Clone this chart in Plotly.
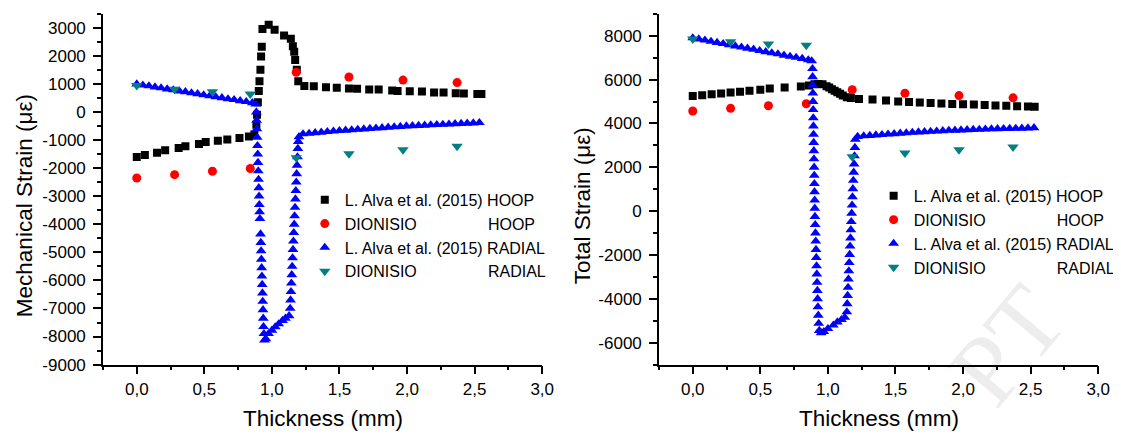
import plotly.graph_objects as go

W, H = 1121, 434

# ---------------- data: Mechanical strain (left) ----------------
mech_hoop_alva_x = [0.00, 0.06, 0.15, 0.21, 0.31, 0.36, 0.46, 0.51, 0.60, 0.67,
                    0.76, 0.83, 0.87, 0.885, 0.89, 0.896, 0.903, 0.908, 0.915, 0.92,
                    0.925, 0.93, 0.976, 1.02, 1.09, 1.14, 1.155, 1.165, 1.172, 1.184,
                    1.195, 1.24, 1.31, 1.40, 1.48, 1.57, 1.63, 1.72, 1.79, 1.89,
                    1.93, 2.02, 2.11, 2.20, 2.27, 2.36, 2.42, 2.52, 2.55]
mech_hoop_alva_y = [-1600, -1530, -1450, -1360, -1280, -1220, -1140, -1070, -1020, -980,
                    -920, -870, -800, -450, -100, 350, 750, 1100, 1510, 1980,
                    2330, 2960, 3110, 2930, 2730, 2610, 2350, 2150, 1860, 1510,
                    1100, 930, 920, 880, 870, 840, 830, 800, 800, 770,
                    750, 740, 730, 700, 700, 670, 660, 640, 640]

dion_x = [0.0, 0.28, 0.56, 0.84, 1.18, 1.57, 1.97, 2.37]
mech_hoop_dion_y = [-2350, -2230, -2110, -2010, 1420, 1250, 1140, 1050]
mech_rad_dion_y = [950, 810, 720, 640, -1630, -1490, -1340, -1220]

mech_rad_alva_x = [0.00, 0.045, 0.09, 0.135, 0.18, 0.225, 0.27, 0.315, 0.36, 0.405,
                   0.45, 0.495, 0.54, 0.585, 0.63, 0.675, 0.72, 0.765, 0.81, 0.855,
                   0.88, 0.885, 0.887, 0.889, 0.891, 0.893, 0.895, 0.897, 0.899, 0.901,
                   0.903, 0.905, 0.907, 0.909, 0.911,
                   0.916, 0.918, 0.92, 0.922, 0.924, 0.926, 0.928, 0.93, 0.932, 0.934,
                   0.936, 0.938, 0.941, 0.945, 0.955,
                   0.975, 1.0, 1.025, 1.05, 1.078, 1.10, 1.127,
                   1.135, 1.138, 1.141, 1.144, 1.147, 1.150, 1.153, 1.156, 1.159, 1.162,
                   1.165, 1.168, 1.171, 1.174, 1.177, 1.180, 1.183, 1.186, 1.189, 1.192,
                   1.195, 1.20,
                   1.23, 1.275, 1.32, 1.365, 1.41, 1.455, 1.50, 1.545, 1.59, 1.635,
                   1.68, 1.725, 1.77, 1.815, 1.86, 1.905, 1.95, 1.995, 2.04, 2.085,
                   2.13, 2.175, 2.22, 2.265, 2.31, 2.355, 2.40, 2.445, 2.49, 2.535]
mech_rad_alva_y = [1000, 960, 930, 890, 860, 820, 790, 750, 720, 680,
                   650, 610, 580, 540, 510, 470, 440, 400, 370, 330,
                   280, 0, -300, -600, -900, -1200, -1500, -1800, -2100, -2400,
                   -2700, -3000, -3300, -3560, -3800,
                   -4350, -4650, -4950, -5250, -5550, -5850, -6150, -6450, -6750, -7050,
                   -7350, -7650, -7900, -8130, -8080,
                   -7900, -7780, -7660, -7550, -7430, -7350, -7260,
                   -7000, -6700, -6400, -6100, -5800, -5500, -5200, -4900, -4600, -4300,
                   -4000, -3700, -3400, -3100, -2800, -2500, -2200, -1900, -1600, -1300,
                   -1050, -880,
                   -780, -760, -740, -720, -700, -680, -665, -650, -635, -620,
                   -605, -590, -575, -560, -545, -530, -515, -500, -490, -480,
                   -470, -460, -450, -440, -430, -420, -410, -400, -390, -380]

# ---------------- data: Total strain (right) ----------------
tot_hoop_alva_x = [0.00, 0.07, 0.14, 0.21, 0.28, 0.35, 0.42, 0.50, 0.57, 0.68,
                   0.80, 0.86, 0.90, 0.93, 0.96, 0.99, 1.01, 1.03, 1.05, 1.07,
                   1.09, 1.11, 1.14, 1.17, 1.23, 1.33, 1.43, 1.52, 1.60, 1.68,
                   1.76, 1.84, 1.92, 2.00, 2.08, 2.16, 2.24, 2.32, 2.40, 2.48, 2.53]
tot_hoop_alva_y = [5250, 5290, 5330, 5370, 5410, 5450, 5490, 5540, 5600, 5645,
                   5690, 5730, 5790, 5800, 5790, 5700, 5640, 5560, 5490, 5420,
                   5350, 5280, 5200, 5160, 5120, 5090, 5050, 5000, 4980, 4960,
                   4930, 4910, 4890, 4880, 4860, 4840, 4820, 4810, 4790, 4770, 4760]
tot_hoop_dion_y = [4570, 4690, 4810, 4900, 5540, 5380, 5270, 5170]
tot_rad_dion_y = [7850, 7730, 7630, 7570, 2480, 2650, 2800, 2930]

tot_rad_alva_x = [0.00, 0.045, 0.09, 0.135, 0.18, 0.225, 0.27, 0.315, 0.36, 0.405,
                  0.45, 0.495, 0.54, 0.585, 0.63, 0.675, 0.72, 0.765, 0.81, 0.855,
                  0.88,
                  0.886, 0.887, 0.888, 0.889, 0.890, 0.891, 0.892, 0.893, 0.894, 0.895,
                  0.896, 0.897, 0.898, 0.899, 0.900, 0.901, 0.902, 0.903, 0.904, 0.906,
                  0.908, 0.910, 0.912, 0.914, 0.916, 0.918, 0.920, 0.922, 0.924, 0.926,
                  0.929, 0.932, 0.936,
                  0.95, 0.97, 1.0, 1.04, 1.07, 1.10, 1.125,
                  1.140, 1.143, 1.146, 1.149, 1.152, 1.155, 1.158, 1.161, 1.164, 1.167,
                  1.170, 1.173, 1.176, 1.179, 1.182, 1.185, 1.188, 1.191, 1.194, 1.197,
                  1.200, 1.203,
                  1.22, 1.265, 1.31, 1.355, 1.40, 1.445, 1.49, 1.535, 1.58, 1.625,
                  1.67, 1.715, 1.76, 1.805, 1.85, 1.895, 1.94, 1.985, 2.03, 2.075,
                  2.12, 2.165, 2.21, 2.255, 2.30, 2.345, 2.39, 2.435, 2.48, 2.525]
tot_rad_alva_y = [7900, 7850, 7800, 7740, 7690, 7640, 7590, 7530, 7480, 7430,
                  7380, 7320, 7270, 7220, 7170, 7110, 7060, 7010, 6960, 6900,
                  6850,
                  6500, 6130, 5750, 5380, 5000, 4630, 4250, 3880, 3500, 3130,
                  2750, 2380, 2000, 1630, 1250, 880, 500, 130, -250, -620,
                  -1000, -1370, -1750, -2120, -2500, -2870, -3250, -3620, -4000, -4370,
                  -4750, -5120, -5450,
                  -5550, -5500, -5360, -5200, -5060, -4950, -4850,
                  -4600, -4230, -3850, -3480, -3100, -2730, -2350, -1980, -1600, -1230,
                  -850, -480, -100, 270, 650, 1020, 1400, 1770, 2150, 2520,
                  2900, 3270,
                  3400, 3430, 3450, 3470, 3490, 3510, 3530, 3550, 3570, 3590,
                  3605, 3620, 3635, 3650, 3665, 3680, 3690, 3700, 3710, 3720,
                  3730, 3740, 3750, 3755, 3760, 3770, 3775, 3780, 3790, 3800]

# ---------------- ticks / labels ----------------
x_tickvals = [0.0, 0.5, 1.0, 1.5, 2.0, 2.5, 3.0]
x_ticktext = ["0,0", "0,5", "1,0", "1,5", "2,0", "2,5", "3,0"]
x_minor = [-0.25, 0.25, 0.75, 1.25, 1.75, 2.25, 2.75]
mech_yticks = [-9000, -8000, -7000, -6000, -5000, -4000, -3000, -2000, -1000, 0, 1000, 2000, 3000]
mech_yminor = [-8500, -7500, -6500, -5500, -4500, -3500, -2500, -1500, -500, 500, 1500, 2500, 3500]
tot_yticks = [-6000, -4000, -2000, 0, 2000, 4000, 6000, 8000]
tot_yminor = [-7000, -5000, -3000, -1000, 1000, 3000, 5000, 7000, 9000]

names = ["L. Alva et al. (2015) HOOP",
         "DIONISIO" + "\u00a0" * 16 + "HOOP",
         "L. Alva et al. (2015) RADIAL",
         "DIONISIO" + "\u00a0" * 16 + "RADIAL"]

FONT = "Liberation Sans, Arial, sans-serif"
BLACK, RED, BLUE, TEAL = "#000000", "#ff0000", "#0000ff", "#008080"

fig = go.Figure()

def add_set(xa, ya, leg, hx, hy, dx, dhy, rx, ry, dry):
    fig.add_trace(go.Scatter(x=hx, y=hy, mode="markers", name=names[0], legend=leg,
                             xaxis=xa, yaxis=ya,
                             marker=dict(symbol="square", size=8, color=BLACK)))
    fig.add_trace(go.Scatter(x=dx, y=dhy, mode="markers", name=names[1], legend=leg,
                             xaxis=xa, yaxis=ya,
                             marker=dict(symbol="circle", size=9, color=RED)))
    fig.add_trace(go.Scatter(x=rx, y=ry, mode="markers", name=names[2], legend=leg,
                             xaxis=xa, yaxis=ya,
                             marker=dict(symbol="triangle-up", size=9.5, color=BLUE)))
    fig.add_trace(go.Scatter(x=dx, y=dry, mode="markers", name=names[3], legend=leg,
                             xaxis=xa, yaxis=ya,
                             marker=dict(symbol="triangle-down", size=10, color=TEAL)))

add_set("x", "y", "legend", mech_hoop_alva_x, mech_hoop_alva_y, dion_x, mech_hoop_dion_y,
        mech_rad_alva_x, mech_rad_alva_y, mech_rad_dion_y)
add_set("x2", "y2", "legend2", tot_hoop_alva_x, tot_hoop_alva_y, dion_x, tot_hoop_dion_y,
        tot_rad_alva_x, tot_rad_alva_y, tot_rad_dion_y)

TICKSIZE = 17
y_dom = [1 - 365 / H, 1 - 6 / H]
common_x = dict(range=[-0.25, 3.0], tickmode="array", tickvals=x_tickvals, ticktext=x_ticktext,
                ticks="outside", ticklen=8, tickwidth=1.5, tickcolor="black",
                showline=True, linecolor="black", linewidth=1.5, showgrid=False, zeroline=False,
                tickfont=dict(family=FONT, size=TICKSIZE, color="black"),
                minor=dict(tickmode="array", tickvals=x_minor, ticks="outside", ticklen=4,
                           tickwidth=1.5, tickcolor="black", showgrid=False))

def yaxis(rng, ticks, minor, anchor):
    return dict(range=rng, tickmode="array", tickvals=ticks, ticktext=[str(v) for v in ticks],
                ticks="outside", ticklen=8, tickwidth=1.5, tickcolor="black",
                ticklabelstandoff=4,
                showline=True, linecolor="black", linewidth=1.5, showgrid=False, zeroline=False,
                tickfont=dict(family=FONT, size=TICKSIZE, color="black"), anchor=anchor, domain=y_dom,
                minor=dict(tickmode="array", tickvals=minor, ticks="outside", ticklen=4,
                           tickwidth=1.5, tickcolor="black", showgrid=False))

legend_common = dict(font=dict(family=FONT, size=16, color="black"), bgcolor="rgba(0,0,0,0)",
                     xanchor="left", yanchor="top", itemwidth=30, tracegroupgap=0)

fig.update_layout(
    width=W, height=H, autosize=False,
    margin=dict(l=0, r=0, t=0, b=0),
    paper_bgcolor="white", plot_bgcolor="white",
    font=dict(family=FONT, color="black"),
    xaxis=dict(domain=[96 / W, 540 / W], anchor="y", **common_x),
    yaxis=yaxis([-9000, 3500], mech_yticks, mech_yminor, "x"),
    xaxis2=dict(domain=[658 / W, 1102 / W], anchor="y2", **common_x),
    yaxis2=yaxis([-7000, 9000], tot_yticks, tot_yminor, "x2"),
    legend=dict(x=300 / W, y=1 - 179 / H, **legend_common),
    legend2=dict(x=875 / W, y=1 - 175 / H, **legend_common),
    showlegend=True,
)

ann_font = dict(family=FONT, size=22.5, color="black")
fig.add_annotation(text="Thickness (mm)", xref="paper", yref="paper", x=318 / W, y=1 - 420 / H,
                   showarrow=False, font=ann_font, xanchor="center", yanchor="middle")
fig.add_annotation(text="Thickness (mm)", xref="paper", yref="paper", x=880 / W, y=1 - 420 / H,
                   showarrow=False, font=ann_font, xanchor="center", yanchor="middle")
fig.add_annotation(text="Mechanical Strain (με)", xref="paper", yref="paper", x=17 / W, y=1 - 202 / H,
                   showarrow=False, font=ann_font, textangle=-90, xanchor="center", yanchor="middle")
fig.add_annotation(text="Total Strain (με)", xref="paper", yref="paper", x=581 / W, y=1 - 202 / H,
                   showarrow=False, font=ann_font, textangle=-90, xanchor="center", yanchor="middle")
# faint watermark letters (bottom right of the right panel)
fig.add_annotation(text="PT", xref="paper", yref="paper", x=1010 / W, y=1 - 345 / H,
                   showarrow=False, textangle=-50,
                   font=dict(family="Liberation Serif, serif", size=100, color="rgba(0,0,0,0.07)"),
                   xanchor="center", yanchor="middle")

fig.write_html("out.html")
